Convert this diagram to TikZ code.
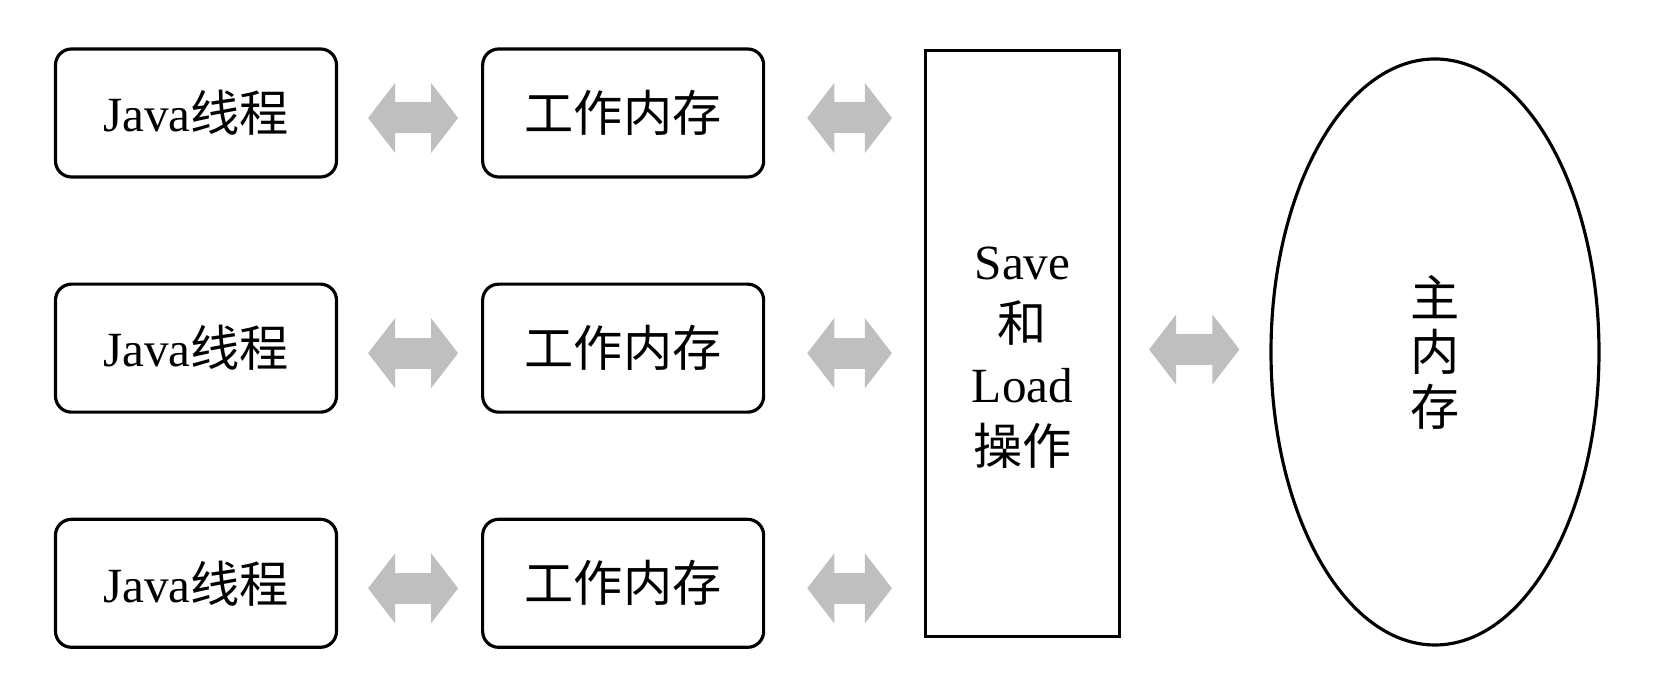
\documentclass[tikz,border=0pt]{standalone}
\usepackage{fontspec}
\setmainfont{Liberation Serif}
\newfontfamily\cjk{Noto Sans CJK SC}
\usetikzlibrary{positioning,calc,shapes.geometric}

\tikzset{
  roundbox/.style={draw, line width=0.9pt, rounded corners=0.16cm, minimum width=2.81cm, minimum height=1.28cm, inner sep=0pt, font=\fontsize{14}{17}\selectfont},
  arrowfill/.style={fill=black!25, draw=none}
}
% fat two-headed grey arrow between two points on one row
\newcommand{\fatarrow}[2]{%
  \fill[arrowfill] ($#1+(0.26,-0.155)$) rectangle ($#2+(-0.26,0.155)$);
  \fill[arrowfill] #1 -- ($#1+(0.27,0.35)$) -- ($#1+(0.27,-0.35)$) -- cycle;
  \fill[arrowfill] #2 -- ($#2+(-0.27,0.35)$) -- ($#2+(-0.27,-0.35)$) -- cycle;}

\begin{document}
\begin{tikzpicture}
    \useasboundingbox (0,0) rectangle (16.56,6.82);

    % threads and their working memory
    \node[roundbox] (j1) at (1.96,5.69) {Java{\cjk 线程}};
    \node[roundbox, below=1.04cm of j1] (j2) {Java{\cjk 线程}};
    \node[roundbox, below=1.04cm of j2] (j3) {Java{\cjk 线程}};

    \node[roundbox, right=1.43cm of j1] (w1) {\cjk 工作内存};
    \node[roundbox, right=1.43cm of j2] (w2) {\cjk 工作内存};
    \node[roundbox, right=1.43cm of j3] (w3) {\cjk 工作内存};

    \node[draw, line width=0.9pt, minimum width=1.94cm, minimum height=5.86cm,
          label={[align=center, yshift=-0.14cm, font=\fontsize{14}{17.5}\selectfont]center:Save\\{\cjk 和}\\Load\\{\cjk 操作}}]
          (sl) at (10.225,3.385) {};

    \node[draw, ellipse, line width=0.9pt, minimum width=3.28cm, minimum height=5.86cm, inner sep=0pt, align=center,
          font=\fontsize{14}{15.5}\selectfont] (mm) at (14.35,3.30)
          {\cjk 主\\\cjk 内\\\cjk 存};

    % fat grey arrows
    \foreach \i in {1,2,3} {
        \fatarrow{([xshift=0.30cm,yshift=-0.05cm]j\i.east)}{([xshift=-0.23cm,yshift=-0.05cm]w\i.west)}
        \fatarrow{([xshift=0.42cm,yshift=-0.05cm]w\i.east)}{([xshift=-0.32cm,yshift=-0.05cm]w\i.east -| sl.west)}
    }
    \fatarrow{([xshift=0.28cm,yshift=-0.06cm]sl.east)}{([xshift=-0.30cm,yshift=-0.06cm]sl.east -| mm.west)}
\end{tikzpicture}
\end{document}
